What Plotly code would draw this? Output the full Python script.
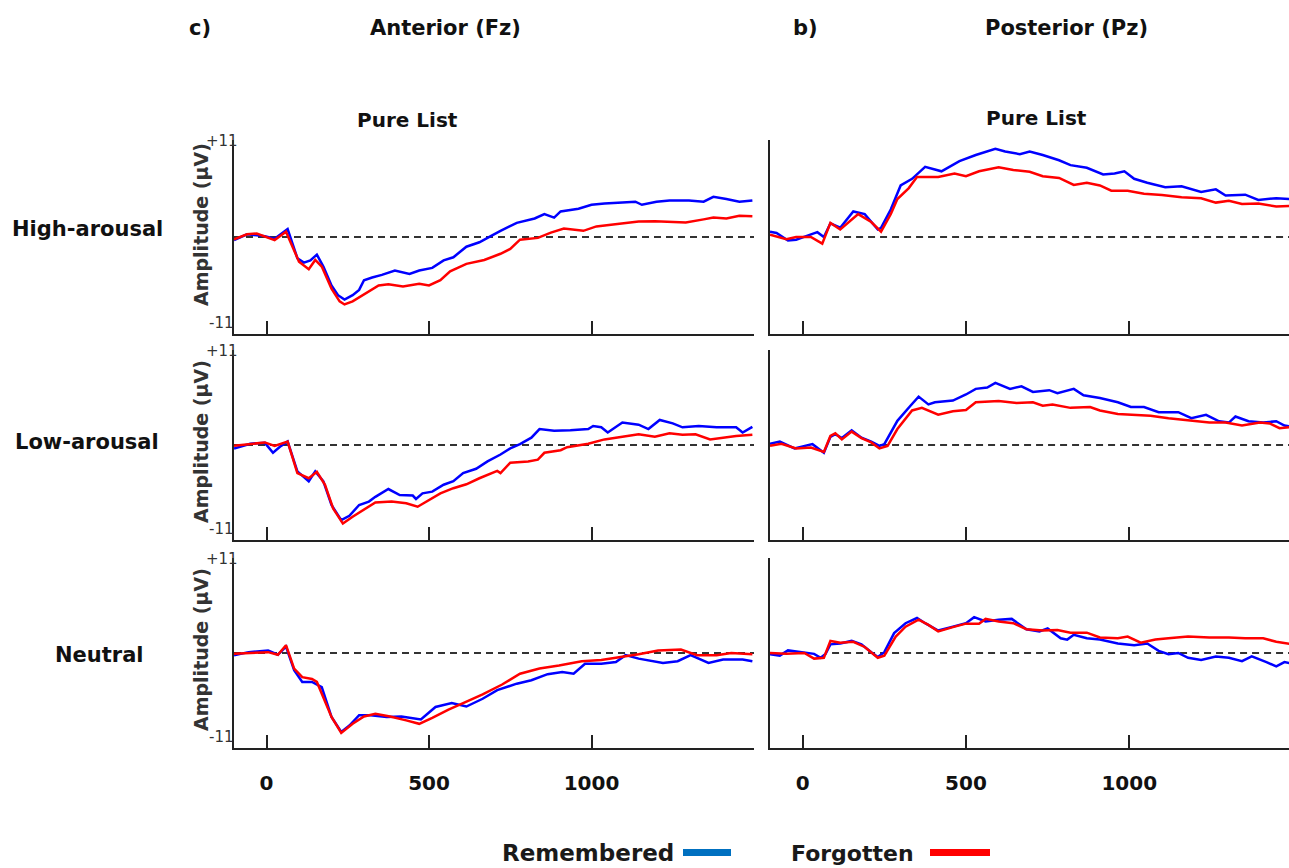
import plotly.graph_objects as go

# ---- ERP waveforms (time in ms, amplitude in µV) ----
# High-arousal, anterior (Fz)
ha_fz_rem_t = [-100, -60, -5, 25, 65, 80, 95, 115, 135, 155, 175, 200, 220, 240, 265, 285, 300, 325, 355, 395,
               440, 470, 510, 545, 575, 615, 655, 690, 720, 770, 825, 855, 885, 905, 960, 1000, 1040, 1095, 1135, 1155,
               1200, 1240, 1300, 1345, 1375, 1415, 1455, 1495]
ha_fz_rem_v = [-0.35, 0.3, 0.1, -0.2, 0.9, -0.65, -2.4, -2.9, -2.65, -2.0, -3.35, -5.5, -6.6, -7.1, -6.6, -6.0, -4.9, -4.6, -4.3, -3.8,
               -4.2, -3.8, -3.5, -2.65, -2.3, -1.1, -0.6, 0.1, 0.7, 1.6, 2.1, 2.6, 2.2, 2.9, 3.2, 3.65, 3.8, 3.9, 4.0, 3.65,
               4.0, 4.15, 4.15, 4.0, 4.55, 4.3, 4.0, 4.15]
ha_fz_for_t = [-100, -60, -30, 25, 60, 80, 100, 130, 150, 170, 200, 225, 240, 265, 305, 345, 375, 420, 470, 500,
               535, 565, 615, 670, 720, 750, 780, 835, 875, 915, 975, 1015, 1060, 1115, 1145, 1195, 1250, 1290, 1345, 1375,
               1415, 1455, 1495]
ha_fz_for_v = [-0.27, 0.3, 0.4, -0.35, 0.6, -1.0, -2.8, -3.65, -2.6, -3.35, -5.85, -7.3, -7.65, -7.3, -6.4, -5.5, -5.35, -5.6, -5.3, -5.5,
               -4.9, -3.9, -3.05, -2.6, -1.9, -1.35, -0.3, -0.1, 0.5, 0.95, 0.7, 1.2, 1.4, 1.6, 1.75, 1.8, 1.75, 1.65, 2.0, 2.2,
               2.1, 2.4, 2.35]

# High-arousal, posterior (Pz)
ha_pz_rem_t = [-100, -80, -45, -20, 15, 45, 65, 85, 115, 155, 190, 230, 240, 270, 300, 335, 375, 425, 480, 530,
               590, 620, 665, 695, 735, 785, 820, 870, 920, 955, 985, 1015, 1055, 1110, 1160, 1220, 1265, 1295, 1355, 1395,
               1450, 1500]
ha_pz_rem_v = [0.6, 0.45, -0.4, -0.3, 0.15, 0.55, 0.0, 1.55, 1.05, 2.9, 2.6, 0.85, 1.05, 3.15, 5.85, 6.6, 7.95, 7.45, 8.6, 9.3,
               10.0, 9.7, 9.4, 9.7, 9.3, 8.7, 8.15, 7.85, 7.1, 7.2, 7.45, 6.6, 6.15, 5.65, 5.75, 5.1, 5.4, 4.7, 4.8, 4.2,
               4.4, 4.3]
ha_pz_for_t = [-100, -50, -20, 25, 60, 85, 115, 170, 210, 240, 270, 290, 325, 350, 415, 465, 500, 540, 600, 645,
               695, 735, 785, 830, 870, 910, 945, 995, 1045, 1100, 1160, 1220, 1265, 1305, 1345, 1395, 1450, 1500]
ha_pz_for_v = [0.25, -0.25, 0.0, 0.0, -0.75, 1.6, 0.85, 2.6, 1.7, 0.6, 2.6, 4.3, 5.55, 6.8, 6.8, 7.2, 6.9, 7.45, 7.9, 7.6,
               7.4, 6.9, 6.7, 5.9, 6.15, 5.85, 5.25, 5.25, 4.9, 4.75, 4.5, 4.4, 3.9, 4.1, 3.75, 3.8, 3.45, 3.55]

# Low-arousal, anterior (Fz)
la_fz_rem_t = [-100, -50, -5, 20, 45, 65, 95, 130, 150, 175, 200, 230, 255, 285, 315, 335, 375, 410, 450, 460,
               480, 510, 545, 575, 605, 645, 680, 720, 750, 780, 815, 840, 885, 935, 990, 1005, 1030, 1050, 1095, 1145,
               1175, 1210, 1250, 1280, 1330, 1385, 1445, 1465, 1495]
la_fz_rem_v = [-0.4, 0.15, 0.25, -0.9, -0.1, 0.4, -3.05, -4.2, -3.05, -4.2, -6.95, -8.7, -8.2, -6.95, -6.55, -6.0, -5.1, -5.8, -5.85, -6.25,
               -5.6, -5.4, -4.6, -4.2, -3.25, -2.75, -1.9, -1.1, -0.4, 0.1, 0.85, 1.85, 1.65, 1.7, 1.85, 2.2, 2.05, 1.45, 2.6, 2.35,
               1.85, 2.9, 2.5, 2.05, 2.2, 2.05, 2.05, 1.45, 2.1]
la_fz_for_t = [-100, -50, -5, 25, 65, 95, 130, 155, 180, 205, 235, 265, 305, 335, 385, 430, 465, 500, 535, 575,
               615, 655, 710, 720, 750, 805, 835, 855, 905, 925, 990, 1040, 1095, 1145, 1195, 1240, 1280, 1320, 1365, 1405,
               1445, 1495]
la_fz_for_v = [-0.1, 0.1, 0.3, -0.1, 0.4, -3.25, -3.85, -3.1, -4.6, -7.35, -9.1, -8.3, -7.35, -6.65, -6.55, -6.75, -7.15, -6.35, -5.6, -5.0,
               -4.55, -3.85, -3.0, -3.25, -2.05, -1.9, -1.7, -0.9, -0.6, -0.25, 0.15, 0.65, 0.95, 1.25, 0.95, 1.35, 1.2, 1.25, 0.65, 0.85,
               1.05, 1.2]

# Low-arousal, posterior (Pz)
la_pz_rem_t = [-100, -70, -25, 30, 65, 85, 100, 120, 150, 180, 210, 235, 250, 290, 330, 355, 385, 405, 460, 500,
               530, 565, 590, 635, 670, 705, 755, 780, 830, 860, 910, 965, 1005, 1045, 1090, 1150, 1190, 1235, 1275, 1305,
               1325, 1365, 1410, 1450, 1475, 1500]
la_pz_rem_v = [0.15, 0.4, -0.4, 0.1, -0.9, 0.95, 1.25, 0.8, 1.7, 0.85, 0.4, -0.1, 0.1, 2.8, 4.55, 5.6, 4.7, 4.95, 5.15, 5.85,
               6.5, 6.65, 7.2, 6.5, 6.8, 6.15, 6.35, 6.0, 6.5, 5.75, 5.45, 4.95, 4.4, 4.4, 3.8, 3.8, 3.1, 3.5, 2.75, 2.6,
               3.3, 2.75, 2.6, 2.75, 2.25, 2.1]
la_pz_for_t = [-100, -65, -20, 25, 65, 85, 100, 120, 150, 180, 210, 235, 260, 290, 335, 365, 415, 460, 500, 530,
               600, 655, 705, 735, 765, 820, 880, 910, 965, 1015, 1065, 1120, 1180, 1245, 1295, 1345, 1400, 1430, 1460, 1500]
la_pz_for_v = [-0.1, 0.15, -0.4, -0.3, -0.8, 1.05, 1.35, 0.65, 1.55, 0.8, 0.3, -0.4, -0.1, 1.85, 4.0, 4.3, 3.5, 3.9, 4.05, 4.95,
               5.1, 4.85, 4.95, 4.55, 4.7, 4.3, 4.4, 4.0, 3.6, 3.5, 3.4, 3.1, 2.9, 2.6, 2.6, 2.25, 2.6, 2.5, 1.95, 2.1]

# Neutral, anterior (Fz)
n_fz_rem_t = [-100, -55, 5, 35, 60, 85, 110, 140, 170, 200, 230, 255, 285, 320, 370, 415, 475, 520, 570, 615,
              665, 710, 770, 815, 865, 910, 945, 980, 1030, 1075, 1105, 1145, 1220, 1265, 1305, 1360, 1405, 1465, 1495]
n_fz_rem_v = [-0.25, 0.1, 0.3, -0.2, 0.75, -2.0, -3.35, -3.35, -3.95, -7.4, -9.15, -8.4, -7.2, -7.2, -7.4, -7.35, -7.7, -6.25, -5.8, -6.2,
              -5.3, -4.3, -3.55, -3.15, -2.45, -2.2, -2.4, -1.25, -1.25, -1.05, -0.25, -0.65, -1.15, -0.95, -0.25, -1.15, -0.75, -0.75, -0.95]
n_fz_for_t = [-100, -55, 5, 35, 60, 85, 110, 140, 155, 200, 230, 265, 300, 335, 380, 430, 470, 510, 560, 605,
              665, 725, 780, 840, 900, 970, 1030, 1090, 1145, 1205, 1275, 1325, 1385, 1430, 1495]
n_fz_for_v = [-0.1, 0.0, 0.1, -0.2, 0.9, -1.8, -2.8, -3.0, -3.35, -7.4, -9.25, -8.2, -7.35, -7.05, -7.35, -7.8, -8.2, -7.5, -6.55, -5.8,
              -4.8, -3.65, -2.4, -1.8, -1.45, -0.95, -0.8, -0.45, -0.15, 0.3, 0.4, -0.25, -0.25, 0.0, -0.15]

# Neutral, posterior (Pz)
n_pz_rem_t = [-100, -70, -45, 5, 35, 55, 70, 85, 115, 150, 180, 210, 230, 250, 280, 315, 350, 375, 415, 460,
              500, 525, 560, 600, 640, 685, 725, 750, 790, 810, 830, 870, 910, 965, 1015, 1055, 1090, 1120, 1150, 1180,
              1220, 1265, 1305, 1345, 1375, 1420, 1450, 1475, 1500]
n_pz_rem_v = [-0.15, -0.3, 0.3, 0.0, -0.1, -0.55, -0.1, 1.0, 1.1, 1.4, 1.0, 0.1, -0.45, 0.1, 2.3, 3.45, 4.05, 3.45, 2.6, 3.05,
              3.45, 4.15, 3.65, 3.85, 3.95, 2.75, 2.5, 2.85, 1.7, 1.55, 2.1, 1.7, 1.55, 1.1, 0.9, 1.1, 0.25, -0.15, 0.0, -0.55,
              -0.8, -0.4, -0.55, -0.95, -0.4, -1.05, -1.55, -1.05, -1.25]
n_pz_for_t = [-100, -50, 5, 35, 65, 85, 115, 155, 190, 230, 250, 285, 315, 355, 385, 415, 460, 500, 540, 560,
              600, 645, 685, 735, 780, 820, 870, 910, 965, 995, 1035, 1080, 1120, 1180, 1245, 1305, 1355, 1410, 1450, 1500]
n_pz_for_v = [0.0, -0.1, 0.0, -0.65, -0.55, 1.4, 1.2, 1.3, 0.7, -0.55, -0.3, 1.9, 3.05, 3.85, 3.25, 2.5, 3.0, 3.4, 3.4, 3.95,
              3.65, 3.45, 2.75, 2.6, 2.65, 2.35, 2.35, 1.8, 1.7, 1.9, 1.2, 1.55, 1.7, 1.9, 1.8, 1.8, 1.7, 1.7, 1.3, 1.0]

row_labels = ["High-arousal", "Low-arousal", "Neutral"]
x_tickvals = [0, 500, 1000]
x_ticktext = ["0", "500", "1000"]
amp_limit = 11

REM_COLOR = "#0000FF"
FOR_COLOR = "#FF0000"
AXIS_COLOR = "#222222"
FONT = "DejaVu Sans"

W, H = 1289, 868

# panel grid in pixels: (left, right) per column, (top, bottom) per row
col_px = [(234, 754), (770, 1289)]
col_range = [[-100, 1500], [-100, 1489]]
row_px = [(140, 334), (350, 540), (558, 748)]

panels = [
    [(ha_fz_rem_t, ha_fz_rem_v, ha_fz_for_t, ha_fz_for_v), (ha_pz_rem_t, ha_pz_rem_v, ha_pz_for_t, ha_pz_for_v)],
    [(la_fz_rem_t, la_fz_rem_v, la_fz_for_t, la_fz_for_v), (la_pz_rem_t, la_pz_rem_v, la_pz_for_t, la_pz_for_v)],
    [(n_fz_rem_t, n_fz_rem_v, n_fz_for_t, n_fz_for_v), (n_pz_rem_t, n_pz_rem_v, n_pz_for_t, n_pz_for_v)],
]

fig = go.Figure()
layout = dict(
    width=W, height=H, margin=dict(l=0, r=0, t=0, b=0),
    paper_bgcolor="white", plot_bgcolor="white", showlegend=False,
    font=dict(family=FONT, color="#111111"),
)
shapes = []
annotations = []

idx = 0
for r in range(3):
    for c in range(2):
        idx += 1
        xa = "x" if idx == 1 else f"x{idx}"
        ya = "y" if idx == 1 else f"y{idx}"
        xkey = "xaxis" if idx == 1 else f"xaxis{idx}"
        ykey = "yaxis" if idx == 1 else f"yaxis{idx}"
        (x0, x1), (y0, y1) = col_px[c], row_px[r]
        layout[xkey] = dict(
            domain=[x0 / W, min(x1 / W, 1.0)], anchor=ya, range=col_range[c],
            showline=True, linecolor=AXIS_COLOR, linewidth=2, mirror=False,
            ticks="inside", ticklen=13, tickwidth=2, tickcolor=AXIS_COLOR,
            tickvals=x_tickvals, ticktext=x_ticktext,
            showticklabels=(r == 2), ticklabelstandoff=16,
            tickfont=dict(family=FONT, size=20, color="#111111", weight="bold"),
            showgrid=False, zeroline=False, fixedrange=True,
        )
        layout[ykey] = dict(
            domain=[1 - y1 / H, 1 - y0 / H], anchor=xa, range=[-amp_limit, amp_limit],
            showline=True, linecolor=AXIS_COLOR, linewidth=2,
            ticks="", showticklabels=False, showgrid=False, zeroline=False, fixedrange=True,
        )
        # dashed baseline at 0 µV
        shapes.append(dict(
            type="line", xref=xa, yref=ya, x0=-100 if c == 0 else 90, x1=1500, y0=0, y1=0,
            line=dict(color="#333333", width=2, dash="7px,5px"), layer="below",
        ))
        rt, rv, ft, fv = panels[r][c]
        fig.add_trace(go.Scatter(x=rt, y=rv, mode="lines", xaxis=xa, yaxis=ya,
                                 line=dict(color=REM_COLOR, width=2.5), name="Remembered"))
        fig.add_trace(go.Scatter(x=ft, y=fv, mode="lines", xaxis=xa, yaxis=ya,
                                 line=dict(color=FOR_COLOR, width=2.5), name="Forgotten"))

        if c == 0:
            # amplitude limits and axis title on the anterior column
            annotations.append(dict(text="+11", xref="paper", yref="paper", x=222 / W, y=1 - (y0 + 1) / H,
                                    showarrow=False, font=dict(size=15, color="#333333"),
                                    xanchor="center", yanchor="middle"))
            annotations.append(dict(text="-11", xref="paper", yref="paper", x=221 / W, y=1 - (y1 - 11) / H,
                                    showarrow=False, font=dict(size=15, color="#333333"),
                                    xanchor="center", yanchor="middle"))
            ymid = [225, 442, 650][r]
            annotations.append(dict(text="<b>Amplitude (µV)</b>", xref="paper", yref="paper", x=201 / W, y=1 - ymid / H,
                                    showarrow=False, textangle=-90, font=dict(size=19, color="#333333"),
                                    xanchor="center", yanchor="middle"))
            annotations.append(dict(text=f"<b>{row_labels[r]}</b>", xref="paper", yref="paper",
                                    x=[87, 87, 100][r] / W, y=1 - [229, 442, 655][r] / H,
                                    showarrow=False, font=dict(size=21, color="#111111"),
                                    xanchor="center", yanchor="middle"))

# column headings
for txt, xc, yc, fs in [("c)", 200, 28, 21), ("Anterior (Fz)", 445, 28, 21), ("b)", 805, 28, 21),
                        ("Posterior (Pz)", 1066, 28, 21), ("Pure List", 407, 120, 20), ("Pure List", 1036, 118, 20)]:
    annotations.append(dict(text=f"<b>{txt}</b>", xref="paper", yref="paper", x=xc / W, y=1 - yc / H,
                            showarrow=False, font=dict(size=fs, color="#111111"),
                            xanchor="center", yanchor="middle"))

# legend: label followed by a colour bar
annotations.append(dict(text="<b>Remembered</b>", xref="paper", yref="paper", x=588 / W, y=1 - 853 / H,
                        showarrow=False, font=dict(size=23, color="#1a1a1a"), xanchor="center", yanchor="middle"))
annotations.append(dict(text="<b>Forgotten</b>", xref="paper", yref="paper", x=852 / W, y=1 - 853 / H,
                        showarrow=False, font=dict(size=22, color="#1a1a1a"), xanchor="center", yanchor="middle"))
shapes.append(dict(type="rect", xref="paper", yref="paper", x0=683 / W, x1=731 / W, y0=1 - 856 / H, y1=1 - 849 / H,
                   fillcolor="#0070C0", line=dict(width=0)))
shapes.append(dict(type="rect", xref="paper", yref="paper", x0=930 / W, x1=990 / W, y0=1 - 856 / H, y1=1 - 849 / H,
                   fillcolor="#FF0000", line=dict(width=0)))

layout["shapes"] = shapes
layout["annotations"] = annotations
fig.update_layout(**layout)
fig.write_html("out.html")
